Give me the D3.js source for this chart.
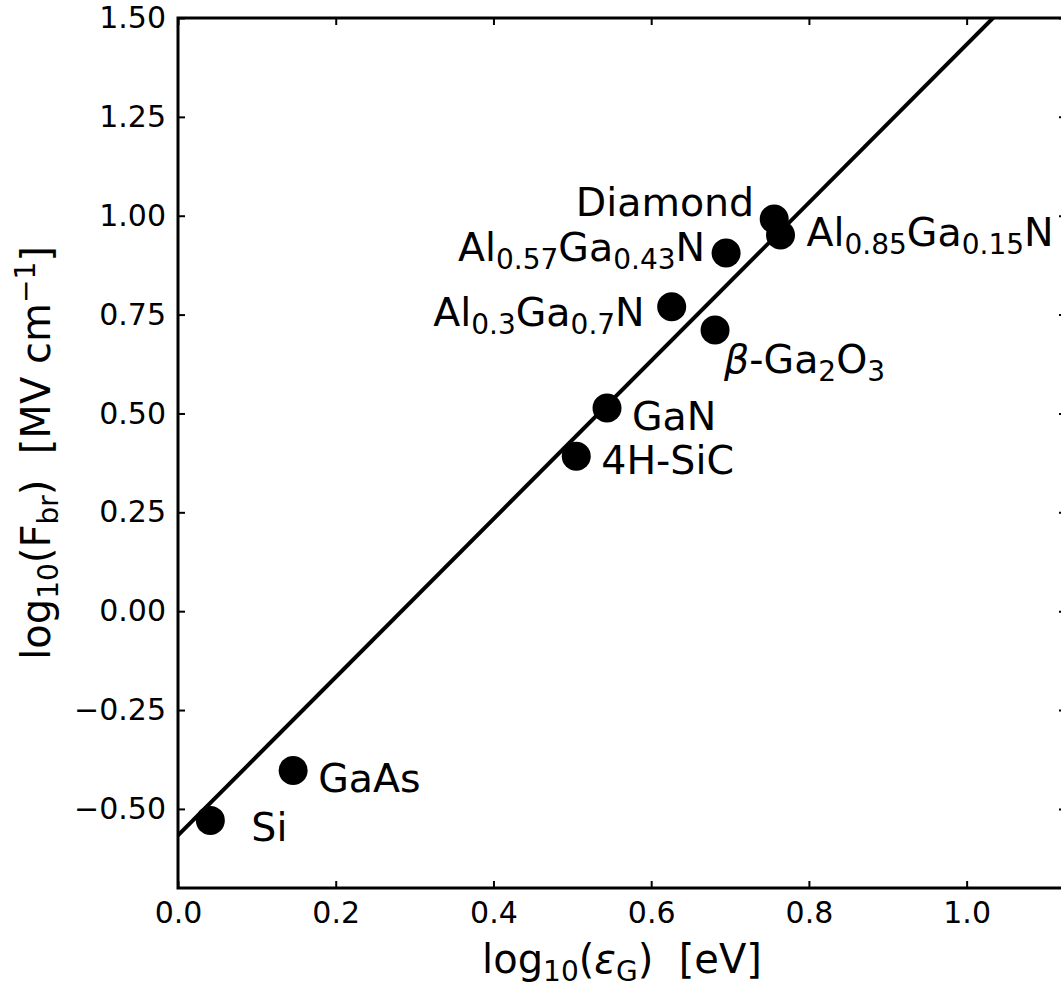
<!DOCTYPE html>
<meta charset="utf-8">
<title>Breakdown field vs band gap</title>
<style>
  body { margin: 0; background: #fff; }
  svg { display: block; font-family: "DejaVu Sans", sans-serif; }
</style>
<body>
<div id="chart"></div>
<script src="https://d3js.org/d3.v7.min.js"></script>
<script>

// data (log10 values)
var materials = ["Si", "GaAs", "4H-SiC", "GaN", "Al0.3Ga0.7N", "β-Ga2O3", "Al0.57Ga0.43N", "Diamond", "Al0.85Ga0.15N"];
var logGap   = [0.041, 0.146, 0.505, 0.544, 0.626, 0.681, 0.695, 0.756, 0.764];
var logField = [-0.529, -0.403, 0.392, 0.514, 0.770, 0.711, 0.906, 0.992, 0.951];

// fitted line: log10(F) = slope * log10(eG) + intercept
var fitSlope = 2.0, fitIntercept = -0.567;

var xTicks = [0.0, 0.2, 0.4, 0.6, 0.8, 1.0];
var yTicks = [-0.50, -0.25, 0.00, 0.25, 0.50, 0.75, 1.00, 1.25, 1.50];

// label placement, pixels relative to the marker
var labelPos = {
  "Si":            {dx: 41,  dy: 21, anchor: "start"},
  "GaAs":          {dx: 25,  dy: 21, anchor: "start"},
  "4H-SiC":        {dx: 25,  dy: 18, anchor: "start"},
  "GaN":           {dx: 25,  dy: 22, anchor: "start"},
  "Al0.3Ga0.7N":   {dx: -27, dy: 19, anchor: "end"},
  "β-Ga2O3":       {dx: 9,   dy: 43, anchor: "start"},
  "Al0.57Ga0.43N": {dx: -21, dy: 8,  anchor: "end"},
  "Diamond":       {dx: -20, dy: -3, anchor: "end"},
  "Al0.85Ga0.15N": {dx: 26,  dy: 11, anchor: "start"}
};

// label pieces: [text, isSub, isItalic]
var labelParts = {
  "Al0.3Ga0.7N":   [["Al"], ["0.3", 1], ["Ga"], ["0.7", 1], ["N"]],
  "Al0.57Ga0.43N": [["Al"], ["0.57", 1], ["Ga"], ["0.43", 1], ["N"]],
  "Al0.85Ga0.15N": [["Al"], ["0.85", 1], ["Ga"], ["0.15", 1], ["N"]],
  "β-Ga2O3":       [["β", 0, 1], ["-Ga"], ["2", 1], ["O"], ["3", 1]]
};

var W = 1061, H = 989;
var margin = {top: 18, left: 178, bottom: 101, right: -5};
var width = W - margin.left - margin.right,
    height = H - margin.top - margin.bottom;

var svg = d3.select("#chart").append("svg")
    .attr("width", W)
    .attr("height", H);

var g = svg.append("g")
    .attr("transform", "translate(" + margin.left + "," + margin.top + ")");

var x = d3.scaleLinear().domain([0, 1.126]).range([0, width]);
var y = d3.scaleLinear().domain([-0.70, 1.50]).range([height, 0]);

g.append("clipPath").attr("id", "clip")
  .append("rect").attr("width", width).attr("height", height);

// ticks on all four sides, pointing in
function styleAxis(sel) {
  sel.select(".domain").remove();
  sel.selectAll(".tick line").attr("stroke", "#000").attr("stroke-width", 2);
  sel.selectAll("text").attr("font-size", 30).attr("fill", "#000")
     .attr("font-family", "DejaVu Sans, sans-serif");
}

g.append("g")
  .attr("transform", "translate(0," + height + ")")
  .call(d3.axisBottom(x).tickValues(xTicks).tickFormat(d3.format(".1f")).tickSize(-7).tickPadding(14))
  .call(styleAxis);
g.append("g")
  .call(d3.axisTop(x).tickValues(xTicks).tickFormat("").tickSize(-7))
  .call(styleAxis);
g.append("g")
  .call(d3.axisLeft(y).tickValues(yTicks).tickFormat(d3.format(".2f")).tickSize(-7).tickPadding(12))
  .call(styleAxis);
g.append("g")
  .attr("transform", "translate(" + width + ",0)")
  .call(d3.axisRight(y).tickValues(yTicks).tickFormat("").tickSize(-7))
  .call(styleAxis);

// fit line
var lineX = [0, 1.2];
g.append("line")
  .attr("clip-path", "url(#clip)")
  .attr("x1", x(lineX[0])).attr("y1", y(fitSlope * lineX[0] + fitIntercept))
  .attr("x2", x(lineX[1])).attr("y2", y(fitSlope * lineX[1] + fitIntercept))
  .attr("stroke", "#000").attr("stroke-width", 4);

// points
g.selectAll("circle.pt")
  .data(materials)
  .enter().append("circle")
    .attr("class", "pt")
    .attr("cx", function(d, i) { return x(logGap[i]); })
    .attr("cy", function(d, i) { return y(logField[i]); })
    .attr("r", 14.5)
    .attr("fill", "#000");

// labels
materials.forEach(function(m, i) {
  var p = labelPos[m];
  var t = g.append("text")
    .attr("x", x(logGap[i]) + p.dx)
    .attr("y", y(logField[i]) + p.dy)
    .attr("text-anchor", p.anchor)
    .attr("font-size", 39.5)
    .attr("fill", "#000");
  var parts = labelParts[m] || [[m]];
  var shift = 0;
  parts.forEach(function(pt) {
    var sub = pt[1] ? 1 : 0;
    var target = sub ? 8 : 0;
    var s = t.append("tspan").text(pt[0]).attr("dy", target - shift);
    if (sub) s.attr("font-size", 28);
    if (pt[2]) s.attr("font-style", "italic");
    shift = target;
  });
});

// frame
g.append("rect")
  .attr("width", width).attr("height", height)
  .attr("fill", "none").attr("stroke", "#000").attr("stroke-width", 3);

// axis titles
var xl = svg.append("text")
  .attr("x", margin.left + width / 2)
  .attr("y", 973)
  .attr("text-anchor", "middle")
  .attr("font-size", 40);
xl.append("tspan").text("log");
xl.append("tspan").text("10").attr("font-size", 28).attr("dy", 8);
xl.append("tspan").text("(").attr("dy", -8);
xl.append("tspan").text("ε").attr("font-style", "italic");
xl.append("tspan").text("G").attr("font-size", 28).attr("dy", 8);
xl.append("tspan").text(")\u00a0\u00a0[eV]").attr("dy", -8);

var yl = svg.append("text")
  .attr("transform", "translate(50," + (margin.top + height / 2) + ") rotate(-90)")
  .attr("text-anchor", "middle")
  .attr("font-size", 40);
yl.append("tspan").text("log");
yl.append("tspan").text("10").attr("font-size", 28).attr("dy", 8);
yl.append("tspan").text("(F").attr("dy", -8);
yl.append("tspan").text("br").attr("font-size", 28).attr("dy", 8);
yl.append("tspan").text(")\u00a0\u00a0[MV cm").attr("dy", -8);
yl.append("tspan").text("−1").attr("font-size", 28).attr("dy", -15);
yl.append("tspan").text("]").attr("dy", 15);

</script>
</body>
